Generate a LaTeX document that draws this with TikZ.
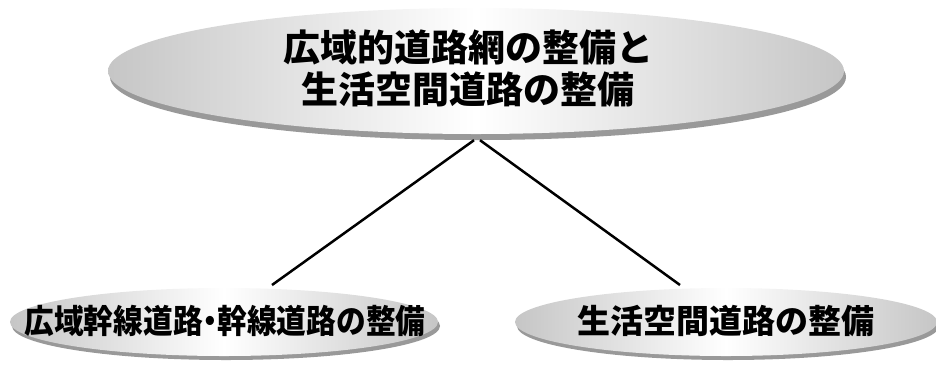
\documentclass[tikz,border=0pt]{standalone}
\usepackage{fontspec}
\newfontfamily\cjk{Noto Sans CJK JP}
\usetikzlibrary{shapes.geometric}
\begin{document}
\begin{tikzpicture}[x=1pt,y=-1pt]
\useasboundingbox (0,0) rectangle (936,365);
\tikzset{
 disc/.style={ellipse, inner sep=0pt, left color=gray!45, right color=gray!45, middle color=white},
 rim/.style={ellipse, inner sep=0pt, fill=gray!80},
 lbl/.style={inner sep=0pt, align=center, text=black},
 conn/.style={line width=2.5pt, black},
}
% top
\node[rim, minimum width=736pt, minimum height=126pt] (toprim) at (478,77) {};
\node[disc, minimum width=736pt, minimum height=126pt] (top) at (476,71) {};
\node[lbl, font={\cjk\bfseries\fontsize{37}{42}\selectfont}] (toptext) at (468,69) {広域的道路網の整備と\\生活空間道路の整備};
% bottom left
\node[rim, minimum width=428pt, minimum height=68pt] (leftrim) at (226,326) {};
\node[disc, minimum width=428pt, minimum height=68pt] (left) at (224,322) {};
\node[lbl, font={\cjk\bfseries\fontsize{33}{36}\selectfont}] (lefttext) at (225,321) {\scalebox{0.9}[1]{広域幹線道路\hspace{-0.25em}・\hspace{-0.25em}幹線道路の整備}};
% bottom right
\node[rim, minimum width=422pt, minimum height=68pt] (rightrim) at (728,326) {};
\node[disc, minimum width=422pt, minimum height=68pt] (right) at (726,322) {};
\node[lbl, font={\cjk\bfseries\fontsize{33}{36}\selectfont}] (righttext) at (726,321) {生活空間道路の整備};
% connectors
\coordinate (le) at (272,285);
\coordinate (re) at (680,285);
\draw[conn] ([xshift=-4pt]toprim.south) -- (le);
\draw[conn] ([xshift=2pt]toprim.south) -- (re);
\end{tikzpicture}
\end{document}
